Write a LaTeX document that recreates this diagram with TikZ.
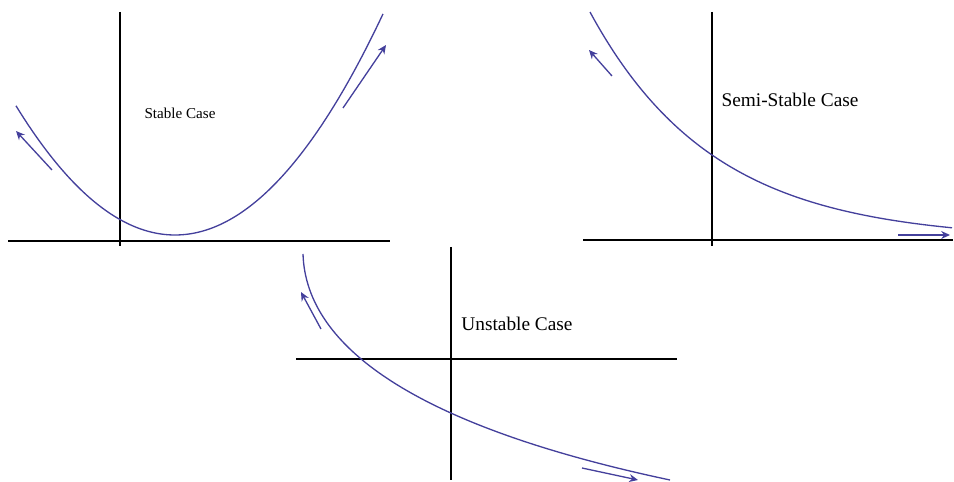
\documentclass[tikz,border=0pt]{standalone}
\usepackage{fontspec}
\setmainfont{Liberation Serif}
\usepackage{tikz}
\usetikzlibrary{arrows.meta}
\definecolor{myBlue}{RGB}{68,64,156}

\begin{document}
\begin{tikzpicture}[
  x=0.02cm, y=-0.02cm,
  axis/.style={line width=0.6pt, black},
  curve/.style={line width=0.75pt, myBlue, smooth, samples=120},
  flow/.style={line width=0.75pt, myBlue, -{Stealth[length=5pt,width=4.5pt]}},
  lbl/.style={font=\fontsize{11}{13}\selectfont, inner sep=0pt},
]
  \useasboundingbox (0,0) rectangle (954,482);

  % stable case
  \draw[axis] (8,241) -- (390,241);
  \draw[axis] (120,12) -- (120,246);
  \draw[curve] plot[domain=16:383] (\x,{235-51.1*((\x-175)/100)^2});
  \coordinate (sL1) at (52,170);  \coordinate (sL2) at (16,131);
  \coordinate (sR1) at (343,108); \coordinate (sR2) at (386,45);
  \draw[flow] (sL1) -- (sL2);
  \draw[flow] (sR1) -- (sR2);
  \node[lbl, font=\fontsize{8.6}{10}\selectfont] (stable) at (180,113) {Stable Case};

  % semi-stable case
  \draw[axis] (583,240) -- (953,240);
  \draw[axis] (712,12) -- (712,246);
  \draw[curve] plot[domain=590:952] (\x,{240-85*exp(-0.00809*(\x-712))});
  \coordinate (mL1) at (612,76);  \coordinate (mL2) at (589,50);
  \coordinate (mR1) at (898,235); \coordinate (mR2) at (950,235);
  \draw[flow] (mL1) -- (mL2);
  \draw[flow] (mR1) -- (mR2);
  \node[lbl] (semi) at (790,100) {Semi-Stable Case};

  % unstable case
  \draw[axis] (296,359) -- (677,359);
  \draw[axis] (451,247) -- (451,480);
  \draw[curve] (303,254) .. controls (306,349) and (420,427) .. (670,480);
  \coordinate (uL1) at (321,329); \coordinate (uL2) at (301,292);
  \coordinate (uR1) at (582,468); \coordinate (uR2) at (638,480);
  \draw[flow] (uL1) -- (uL2);
  \draw[flow] (uR1) -- (uR2);
  \node[lbl] (unstable) at (517,324) {Unstable Case};
\end{tikzpicture}
\end{document}
